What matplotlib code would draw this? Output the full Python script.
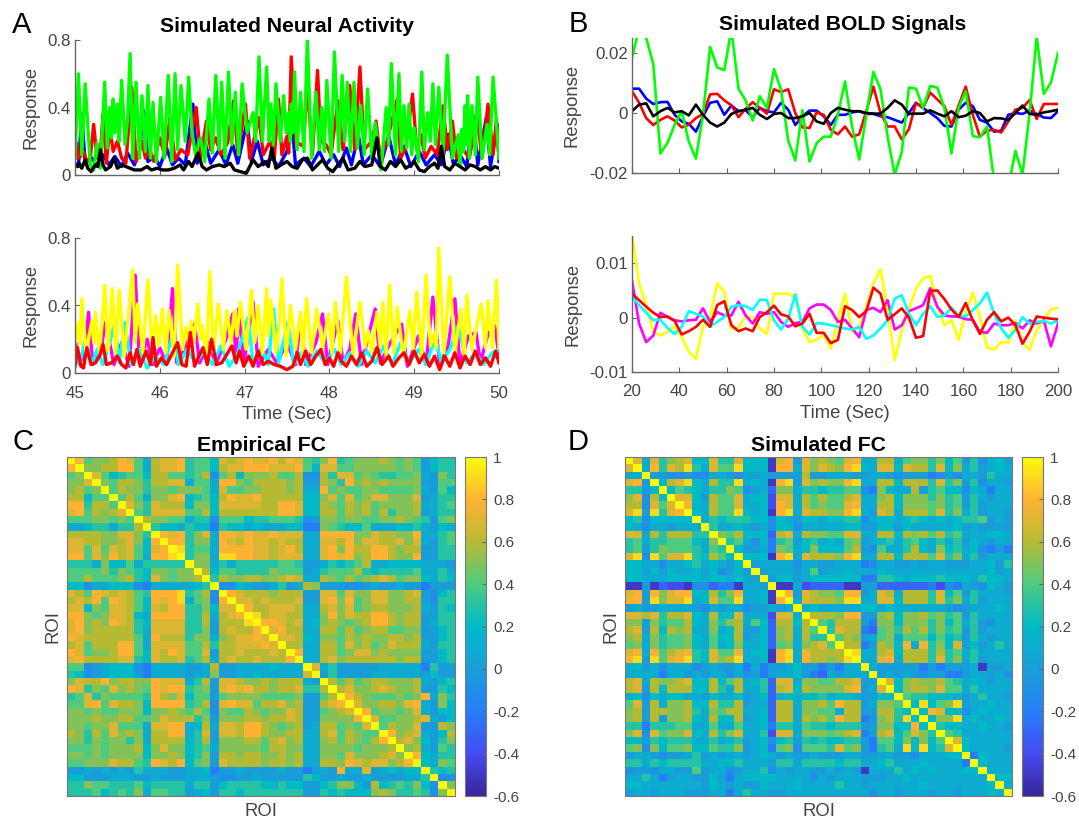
import numpy as np
import matplotlib
matplotlib.use("Agg")
import matplotlib.pyplot as plt
from matplotlib.colors import LinearSegmentedColormap

plt.rcParams['font.family'] = ['Liberation Sans', 'DejaVu Sans']

# ---- panel A, top
green_t = [45.00,45.04,45.08,45.12,45.18,45.22,45.26,45.30,45.35,45.38,45.41,45.43,45.45,45.47,45.50,45.52,45.55,45.59,45.62,45.65,45.68,45.72,45.76,45.79,45.83,45.86,45.89,45.92,45.96,46.01,46.05,46.10,46.14,46.18,46.21,46.25,46.30,46.34,46.38,46.42,46.48,46.53,46.58,46.62,46.66,46.70,46.73,46.77,46.81,46.85,46.89,46.93,46.97,47.03,47.10,47.13,47.17,47.21,47.26,47.29,47.31,47.34,47.37,47.42,47.46,47.49,47.52,47.54,47.55,47.57,47.59,47.62,47.66,47.70,47.74,47.79,47.84,47.88,47.91,47.94,47.97,48.02,48.06,48.11,48.15,48.18,48.21,48.25,48.29,48.33,48.37,48.41,48.45,48.50,48.54,48.61,48.67,48.70,48.73,48.78,48.82,48.85,48.88,48.91,48.94,48.97,49.00,49.05,49.09,49.12,49.16,49.19,49.22,49.25,49.29,49.34,49.39,49.45,49.52,49.54,49.56,49.58,49.60,49.61,49.63,49.65,49.68,49.72,49.75,49.80,49.86,49.89,49.93,50.00]
green_v = [.10,.60,.12,.54,.06,.03,.19,.04,.55,.16,.40,.22,.45,.25,.42,.20,.56,.18,.33,.72,.10,.55,.10,.47,.14,.53,.10,.43,.08,.46,.10,.59,.08,.60,.15,.53,.20,.58,.25,.12,.22,.08,.45,.13,.59,.15,.55,.10,.61,.18,.49,.12,.54,.25,.37,.20,.70,.20,.64,.20,.42,.18,.54,.20,.47,.25,.37,.20,.42,.25,.61,.15,.49,.14,.80,.10,.49,.15,.40,.14,.56,.10,.73,.14,.59,.20,.55,.14,.55,.16,.41,.12,.51,.10,.31,.03,.40,.18,.66,.12,.60,.14,.41,.16,.42,.12,.28,.08,.61,.15,.37,.20,.54,.18,.52,.12,.71,.10,.24,.05,.27,.14,.41,.18,.47,.10,.41,.12,.58,.10,.30,.12,.58,.10]
red_t = [45.00,45.02,45.05,45.10,45.14,45.18,45.22,45.26,45.30,45.33,45.37,45.41,45.45,45.50,45.55,45.60,45.67,45.72,45.79,45.83,45.88,45.93,46.00,46.06,46.12,46.18,46.25,46.33,46.43,46.48,46.55,46.60,46.66,46.72,46.80,46.87,46.92,47.01,47.06,47.17,47.22,47.30,47.35,47.40,47.44,47.50,47.52,47.55,47.60,47.69,47.74,47.80,47.86,47.90,47.96,48.02,48.10,48.16,48.24,48.30,48.36,48.41,48.50,48.55,48.60,48.68,48.80,48.84,48.90,48.98,49.03,49.08,49.13,49.20,49.27,49.34,49.39,49.45,49.50,49.58,49.65,49.74,49.80,49.87,49.93,49.97,50.00]
red_v = [.10,.19,.10,.14,.08,.10,.30,.10,.13,.36,.07,.28,.14,.20,.10,.07,.52,.08,.20,.10,.15,.08,.22,.11,.34,.09,.15,.12,.40,.10,.32,.15,.22,.12,.19,.44,.12,.42,.10,.34,.12,.20,.10,.45,.12,.23,.13,.70,.20,.17,.53,.12,.62,.20,.18,.12,.44,.15,.53,.15,.64,.15,.20,.32,.10,.20,.45,.10,.16,.48,.15,.24,.10,.17,.12,.41,.15,.32,.10,.15,.10,.35,.10,.42,.12,.33,.10]
blue_t = [45.00,45.04,45.08,45.12,45.20,45.27,45.33,45.40,45.47,45.55,45.62,45.70,45.76,45.81,45.86,45.94,46.00,46.08,46.15,46.22,46.30,46.39,46.44,46.53,46.60,46.70,46.78,46.86,46.92,47.03,47.08,47.15,47.22,47.32,47.40,47.50,47.56,47.60,47.70,47.78,47.88,47.96,48.05,48.12,48.20,48.26,48.34,48.40,48.50,48.60,48.70,48.78,48.88,48.96,49.06,49.14,49.24,49.32,49.40,49.46,49.55,49.62,49.69,49.75,49.85,49.90,49.98,50.00]
blue_v = [.07,.05,.36,.07,.10,.05,.12,.06,.11,.05,.13,.06,.14,.38,.08,.11,.05,.16,.06,.10,.06,.42,.07,.20,.07,.15,.06,.18,.07,.32,.08,.20,.06,.10,.05,.14,.30,.06,.10,.05,.14,.06,.12,.05,.16,.06,.24,.06,.12,.05,.23,.06,.17,.05,.14,.06,.12,.06,.24,.07,.11,.05,.36,.06,.34,.05,.30,.08]
black_t = [45.00,45.03,45.05,45.08,45.12,45.15,45.19,45.24,45.27,45.30,45.33,45.36,45.42,45.46,45.50,45.55,45.60,45.65,45.70,45.78,45.85,45.90,45.97,46.03,46.10,46.17,46.24,46.28,46.34,46.38,46.45,46.50,46.55,46.62,46.70,46.76,46.83,46.88,46.95,47.02,47.10,47.16,47.24,47.28,47.32,47.37,47.43,47.50,47.56,47.62,47.68,47.74,47.80,47.86,47.92,47.98,48.04,48.10,48.16,48.22,48.30,48.36,48.42,48.50,48.56,48.60,48.66,48.72,48.78,48.84,48.90,48.96,49.00,49.06,49.12,49.18,49.24,49.28,49.32,49.36,49.42,49.48,49.54,49.60,49.66,49.72,49.78,49.84,49.90,49.95,50.00]
black_v = [.06,.05,.07,.04,.09,.04,.02,.06,.05,.15,.06,.03,.05,.10,.04,.06,.05,.04,.03,.03,.05,.03,.04,.03,.03,.04,.06,.03,.08,.05,.13,.05,.03,.05,.06,.05,.07,.03,.02,.01,.09,.05,.08,.05,.16,.04,.06,.08,.05,.04,.09,.10,.03,.06,.09,.04,.02,.06,.10,.03,.04,.08,.05,.06,.22,.05,.03,.08,.05,.09,.04,.06,.08,.03,.02,.05,.07,.04,.17,.05,.03,.07,.05,.03,.06,.05,.03,.05,.03,.05,.04]

# ---- panel A, bottom
yellow_t = [45.00,45.04,45.06,45.08,45.13,45.20,45.22,45.24,45.29,45.33,45.35,45.39,45.44,45.48,45.52,45.58,45.68,45.71,45.74,45.80,45.86,45.91,45.95,45.99,46.03,46.07,46.11,46.17,46.21,46.27,46.31,46.35,46.37,46.40,46.45,46.48,46.50,46.55,46.59,46.63,46.69,46.75,46.79,46.84,46.88,46.91,46.95,47.02,47.08,47.12,47.16,47.21,47.26,47.28,47.31,47.37,47.41,47.44,47.49,47.54,47.60,47.66,47.69,47.73,47.79,47.85,47.92,47.99,48.03,48.07,48.13,48.20,48.28,48.36,48.42,48.46,48.50,48.56,48.60,48.63,48.67,48.71,48.76,48.80,48.87,48.95,48.99,49.03,49.09,49.14,49.19,49.23,49.26,49.29,49.35,49.42,49.48,49.55,49.59,49.62,49.68,49.79,49.84,49.87,49.92,49.97,50.00]
yellow_v = [.18,.30,.17,.44,.12,.31,.18,.36,.12,.37,.52,.13,.50,.12,.49,.10,.61,.18,.41,.12,.55,.12,.34,.16,.38,.12,.37,.10,.64,.14,.27,.16,.31,.18,.41,.20,.28,.10,.60,.12,.41,.14,.37,.18,.37,.22,.42,.14,.49,.18,.40,.12,.50,.22,.43,.12,.30,.56,.10,.40,.14,.36,.10,.44,.12,.38,.15,.35,.12,.42,.12,.57,.10,.42,.15,.25,.12,.36,.15,.42,.10,.52,.12,.39,.10,.37,.14,.48,.10,.58,.16,.23,.15,.74,.12,.57,.12,.38,.10,.46,.14,.41,.15,.43,.15,.55,.15]
magenta_t = [45.00,45.04,45.10,45.16,45.21,45.30,45.36,45.46,45.55,45.64,45.71,45.76,45.85,45.92,46.00,46.08,46.15,46.20,46.30,46.41,46.47,46.58,46.66,46.78,46.86,46.90,46.93,46.99,47.10,47.16,47.28,47.38,47.50,47.60,47.66,47.72,47.84,47.92,47.98,48.10,48.16,48.24,48.31,48.38,48.46,48.54,48.60,48.72,48.85,48.92,49.05,49.14,49.22,49.30,49.40,49.48,49.54,49.64,49.73,49.78,49.87,49.95,50.00]
magenta_v = [.20,.10,.08,.36,.05,.12,.30,.05,.18,.04,.58,.06,.20,.05,.15,.05,.50,.06,.15,.29,.06,.18,.05,.20,.35,.10,.38,.05,.42,.04,.14,.06,.18,.05,.32,.05,.18,.35,.05,.31,.06,.14,.35,.05,.22,.38,.06,.18,.29,.04,.22,.05,.45,.05,.16,.44,.05,.22,.24,.06,.23,.28,.10]
cyan_t = [45.00,45.05,45.12,45.20,45.26,45.33,45.40,45.47,45.52,45.59,45.66,45.76,45.85,45.95,46.05,46.16,46.22,46.32,46.42,46.52,46.62,46.72,46.82,46.92,47.04,47.10,47.20,47.28,47.34,47.40,47.51,47.58,47.66,47.75,47.85,47.95,48.06,48.14,48.24,48.34,48.44,48.54,48.64,48.74,48.84,48.94,49.05,49.14,49.25,49.32,49.42,49.52,49.62,49.72,49.82,49.92,50.00]
cyan_v = [.10,.05,.19,.05,.14,.05,.16,.30,.06,.30,.05,.14,.03,.10,.05,.24,.05,.14,.06,.13,.05,.16,.04,.12,.33,.06,.15,.05,.38,.06,.30,.05,.12,.04,.13,.06,.14,.05,.12,.04,.13,.06,.16,.05,.18,.06,.14,.05,.21,.06,.14,.28,.06,.12,.05,.12,.14]
redb_t = [45.00,45.03,45.07,45.10,45.14,45.19,45.24,45.29,45.33,45.37,45.43,45.50,45.55,45.60,45.65,45.69,45.73,45.77,45.84,45.89,45.92,45.96,46.02,46.08,46.14,46.21,46.26,46.31,46.36,46.41,46.46,46.51,46.56,46.61,46.67,46.73,46.79,46.85,46.90,46.94,46.99,47.05,47.10,47.16,47.22,47.28,47.35,47.42,47.50,47.57,47.62,47.66,47.72,47.78,47.84,47.90,47.95,48.00,48.05,48.10,48.14,48.20,48.26,48.32,48.38,48.44,48.50,48.56,48.62,48.70,48.75,48.82,48.88,48.94,49.00,49.06,49.12,49.18,49.24,49.30,49.36,49.42,49.48,49.54,49.60,49.66,49.72,49.78,49.84,49.90,49.96,50.00]
redb_v = [.04,.15,.04,.03,.15,.05,.06,.10,.17,.05,.06,.10,.05,.03,.12,.05,.14,.04,.13,.05,.21,.04,.09,.05,.11,.18,.05,.04,.24,.04,.10,.15,.05,.20,.05,.06,.11,.16,.06,.13,.04,.10,.04,.13,.05,.07,.05,.04,.02,.04,.12,.05,.13,.05,.10,.14,.05,.09,.04,.12,.07,.04,.10,.05,.12,.04,.07,.15,.05,.10,.04,.09,.12,.05,.13,.06,.11,.04,.10,.02,.10,.04,.12,.03,.10,.05,.13,.05,.09,.04,.13,.06]

# ---- panel B, top
bold_green = [.0186,.028,.025,.0163,-.0135,-.0099,-.004,.0006,-.0096,-.0152,-.0006,.022,.0152,.0143,.028,.0081,.0042,-.0025,.0056,.0017,.0146,.0077,-.0092,-.0158,.001,-.0162,-.0101,-.0079,-.0079,-.0006,.0105,-.0045,-.0155,-.0006,.0137,.0079,-.0079,-.0205,-.013,.0085,.0081,.0017,.009,.0085,.0017,-.0135,.0017,.0073,-.0077,-.0081,-.0045,-.0225,-.027,-.0248,-.0126,-.0205,0,.0254,.0064,.0101,.02]
bold_red = [.0073,.0034,-.0017,-.004,-.0023,-.0011,-.0025,-.0048,-.0039,-.0017,-.0003,.0062,.0064,.0042,.0026,-.0014,.0014,.0036,.0017,-.0002,.0079,.007,.0079,0,-.0048,-.005,.0002,-.0006,-.0056,-.0071,-.0045,-.0079,-.0071,.0006,.0088,0,-.0045,-.0045,-.0088,-.0054,.0034,.0017,.0068,.0045,.0023,-.004,.0025,.0088,-.0006,-.0079,-.0059,-.0056,-.0065,-.0028,.0011,.0017,.0043,-.002,.003,.003,.003]
bold_blue = [.0081,.0081,.0048,.003,.0036,.0037,-.0006,-.0028,-.0036,-.0062,-.0011,.0034,.0039,-.0006,.0025,.0006,.0009,-.0014,.0017,.0006,.0002,.0034,.0011,-.004,-.0011,.0008,.0008,-.0011,-.004,-.0006,-.0006,.0002,.0006,-.0003,-.0003,-.0011,-.0014,-.0023,-.0032,0,.0034,.0017,0,-.0017,-.0043,-.0045,.0011,.0034,.0023,-.0023,-.0032,-.0062,-.0059,-.0006,0,-.0003,.0008,-.0003,-.0015,-.0017,.0006]
bold_black = [.0006,.0028,.0032,-.0011,.0006,.0017,.0002,.0006,-.0008,.0028,-.0006,-.0032,-.0045,-.0032,-.0003,.0006,.0011,.0017,-.0006,-.002,-.0003,0,-.0017,-.0017,-.0011,0,-.0028,-.0036,0,.0017,.0011,.0006,.0006,0,-.0002,-.0002,.0017,.0042,.0028,-.0003,-.0002,-.0002,.0009,-.0002,-.0011,.0006,-.0014,-.0009,.0006,0,-.0028,-.0017,-.0018,-.0023,0,.0025,-.0003,-.0006,.0002,.0006,.0011]

# ---- panel B, bottom
bold_yellow = [.0152,.0063,.0023,-.0026,-.0033,-.0026,-.0017,-.0036,-.0063,-.0076,-.0017,.0001,.0063,.0047,-.002,-.0018,.0002,0,-.002,-.003,.0044,.0044,.0044,.0037,-.002,-.0045,-.0041,-.0031,-.0057,-.0005,.0044,-.0026,-.0018,.002,.0063,.0089,.0014,-.0078,-.0023,.0014,.0054,.0072,.0077,.002,-.0014,-.0005,-.0041,.001,.0046,.0001,-.0055,-.0059,-.0045,-.0046,-.0005,-.0045,-.0059,-.0023,-.0005,.0015,.0018]
bold_magenta = [.0068,-.0011,-.0045,-.0033,.0009,.0001,-.0005,-.0007,-.0005,-.0004,.0017,-.0008,.001,.0004,.0004,.0029,.0004,-.0011,.001,.0007,.001,-.0008,-.0017,-.001,-.0008,.0017,.0024,.0024,.0014,-.0008,-.0004,-.002,-.0036,.0014,.0018,.001,.0032,-.0022,-.0014,.0012,.0017,.0023,.0054,.002,.0004,.0002,.0002,-.0003,-.0004,-.0026,-.0028,-.0011,-.0014,-.0014,-.001,-.002,-.0005,-.0011,-.0005,-.0053,-.0011]
bold_cyan = [.0038,.0023,.0009,-.0005,-.0004,-.0019,-.003,-.0017,.0012,.0007,.0002,-.0016,-.0008,.0001,.002,.0023,.0021,.0014,.0033,.0032,-.0005,-.0022,-.0002,.0043,-.0017,-.0031,-.001,-.0011,-.0014,-.0017,-.002,-.0022,-.0017,-.0039,-.0033,-.002,-.0005,.0035,.0041,.0007,-.0014,.0007,.0021,.0001,.0004,.0018,.0004,.0002,.0014,.0026,.0046,.0007,-.002,-.0037,-.0023,.0001,-.0011,-.0008,-.0006,-.0011,-.0005]
bold_red2 = [.0044,.0032,.002,.0009,.0001,.0002,-.0006,-.0031,-.0025,-.0017,-.0004,-.0017,.0023,.003,-.0014,-.0025,-.002,-.0025,.0001,.001,.0022,.0006,.0002,-.0016,-.0011,.0007,-.0028,-.0028,-.0047,-.0041,.0021,.0014,.0001,.0012,.0055,.0044,-.0004,.0006,.0017,0,-.0037,-.0034,.0049,.005,.0034,.0015,.0001,.0027,-.0005,-.003,-.0004,.001,-.0007,0,-.0014,-.0048,-.0026,.0002,0,-.0002,-.0003]

# ---- FC matrices, upper triangle from the diagonal, one digit = tenths
# X = 1.0, a..f = -0.1..-0.6
empirical_fc = [
"X845568741 67783442 7678778687 435834555654540233",
"X55668841 67783442 6778887778 427744555554540233",
"X7423442 6644346a 4625556446 aa6377454334451053",
"X546653 66771441 8854666656 006538565655550044",
"X46553 55455541 7445566656 118454455444451042",
"X4641 55782342 6877866666 225747457755570133",
"X753 76662552 7777766887 226546564555561134",
"X43 77774462 6666666887 226646564635560133",
"X6 55441 33a 4442334443 a05545544556543045",
"X 32213 22b 3221211122 bb5432241112231021",
"X8783571 8878778777 118888557665581134",
"X883551 8768776766 117768577667571034",
"X93441 8888776786 117858668865660033",
"X3551 9988776777 117878568865580033",
"X551 3133333443 001323461122221110",
"X62 4433335444 013444632333341131",
"X3 6556655676 116546456764552132",
"X aa21001301 6500 0aa0100100 b000",
"X876665666 00774755775567 0a23",
"X77676667 00785845775566 0a33",
"X8667776 11675745665556 1032",
"X967766 11585766886566 0033",
"X88767 125654568865660133",
"X7866 11664645664455 0023",
"X776 215546565566 56 0023",
"X66 116647564576 66 1033",
"X8 116645775655 55 0023",
"X 116756666665 66 0023",
"X7 130000011111 b300",
"X 030000111111 0200",
"X6464566555 6 1023",
"X67556765 56 0 032",
"X8654445458 153",
"X755665781052",
"X84554571022",
"X7445567102",
"X465570065",
"X85671026",
"X6752035",
"X561043",
"X82133",
"X2154",
"X323",
"Xaa",
"X5",
"X",
]
simulated_fc = [
"X7173567 22 73372 2 2e 7807565478 1166145535 2403a120",
"X18376931 74492 2 2e 8817576589 217727663725130121",
"X00aa0aa 1 10a 1 0 1 0 0006 0 0 1 1 1 0 0 1 1 0a000ba0a1 1 0 3 1 1",
"X267921 6339 1 2 1e 8907565589 116626663735 0 3 a 1 1 0",
"X24321 3354a 0 1c 5513323344 ab52116034 2 2 a 2 1 b 1 1",
"X7720 64471 2 2d 7716464467 115625553534 0 3 1 0 1 1",
"X821 64471 1 2d 8716454478 116625554534 0 3 0 1 1 1",
"X21 64492 1 2e 8917665589 107616664735 1 3 0 1 1 0",
"X1 32333 2 2a 2102212233 a122123212 1 2 3 3 4 0 1 0",
"X 31121 0 1a 22a1111122 002202111112 0 1 0 0 0 0",
"X5462 2 2c 6716554477 116626564634 1 1 1 2 2 1",
"X341a2b 3402312145 012313421313 0 2 1 0 1 1",
"X2001b 5412522246 0a4113621523 1 2 a b 0 b",
"X222e 8917666589 116626664735 1 3 0 1 1 1",
"X011 11a110 0111 ba1100101100 0 1 1 2 0 3",
"X01 1101401121 102111111111 1 1 1 2 0 1",
"X0 2201222222 bb3321222322 2 1 3 2 2 1",
"X ee1dcccc ee 00ccccccbdab 1 0 a 2 1 0",
"X807 6 5 5 4 8 8 017616663724 0 3 1 1 1 0",
"X17666 5 9 9 117726663735 1 3 0 1 1 1",
"X1211111 2212111111 0a 0 1 1 1 2 1",
"X666588 005625564534 0 3 1 1 1 1",
"X436 6 6 0b5525553524 1 3 0 a 1 1",
"X3766 bc4536463534 0 3 0 1 1 1",
"X465 014514442423 0 3 1 0 1 1",
"X66 b06528183527 0 2 0 1 3 1",
"X9 116726663634 1 3 1 1 1 1",
"X 117816663735 1 3 0 1 1 1",
"X1 00000b0b0001 e001",
"X 01010a00bb01 1 0 1 a",
"X725655 64 3 1 2 1 0 1 1",
"X2566 5 7 4 4 1 3 1 1 1 1",
"X43 3 2 2 2 1 0 1 3 1 1 0",
"X2924590 1 1 2 1 1",
"X2872 2 a 1 2 1 1 1",
"X25591 2 1 1 2 1",
"X322 1 1 2 1 1 0",
"X43 1 1 1 1 1 1",
"X7 2 1 1 1 1 1",
"X2 1 1 1 1 0",
"Xb 2 1 1 1",
"X2 1 1 1",
"X1 1 1",
"X2 2",
"X1",
"X",
]

x_a = [45, 46, 47, 48, 49, 50]
x_b = [20, 40, 60, 80, 100, 120, 140, 160, 180, 200]
cbar_ticks = [-0.6, -0.4, -0.2, 0, 0.2, 0.4, 0.6, 0.8, 1]
cbar_labels = ['-0.6', '-0.4', '-0.2', '0', '0.2', '0.4', '0.6', '0.8', '1']


def decode(rows):
    vals = {'X': 1.0, 'a': -.1, 'b': -.2, 'c': -.3, 'd': -.4, 'e': -.5, 'f': -.6}
    m = np.full((46, 46), 0.3)
    for i, s in enumerate(rows):
        s = s.replace(' ', '')
        for k, c in enumerate(s[:46 - i]):
            v = vals[c] if c in vals else int(c) / 10
            m[i, i + k] = v
            m[i + k, i] = v
    return m


W, H = 1079, 821
fig = plt.figure(figsize=(W / 100, H / 100), dpi=100)
tick_c = '#444444'
GREEN = (0, 1, 0)
YELLOW = (1, 1, 0)
MAGENTA = (1, 0, 1)
CYAN = (0, 1, 1)


def px_axes(x0, y0, x1, y1):
    # pixel box, y measured from the top
    return fig.add_axes([x0 / W, 1 - y1 / H, (x1 - x0) / W, (y1 - y0) / H])


def style(ax, xt, yt, ylab, xlim, ylim, show_x):
    ax.set_xlim(*xlim)
    ax.set_ylim(*ylim)
    ax.set_xticks(xt)
    ax.set_yticks(yt)
    ax.set_yticklabels(ylab)
    if not show_x:
        ax.set_xticklabels([])
    ax.spines['top'].set_visible(False)
    ax.spines['right'].set_visible(False)
    for s in ['left', 'bottom']:
        ax.spines[s].set_color('#666666')
        ax.spines[s].set_linewidth(1.0)
    ax.tick_params(direction='in', length=3.5, width=0.8, color='#666666',
                   labelcolor=tick_c, labelsize=12.2, pad=3)
    ax.tick_params(axis='x', pad=9)
    ax.set_ylabel('Response', fontsize=13.3, color=tick_c, labelpad=6)


lw = 1.9
lw_a = 2.4
ax1 = px_axes(75, 40, 499, 175)
ax1.plot(blue_t, blue_v, color='b', lw=lw_a)
ax1.plot(red_t, red_v, color='r', lw=lw_a)
ax1.plot(green_t, green_v, color=GREEN, lw=lw_a)
ax1.plot(black_t, black_v, color='k', lw=lw_a)
style(ax1, x_a, [0, .4, .8], ['0', '0.4', '0.8'], (45, 50), (0, .8), False)

ax2 = px_axes(75, 238, 499, 373)
ax2.plot(magenta_t, magenta_v, color=MAGENTA, lw=lw_a)
ax2.plot(cyan_t, cyan_v, color=CYAN, lw=lw_a)
ax2.plot(yellow_t, yellow_v, color=YELLOW, lw=lw_a)
ax2.plot(redb_t, redb_v, color='r', lw=lw_a)
style(ax2, x_a, [0, .4, .8], ['0', '0.4', '0.8'], (45, 50), (0, .8), True)
ax2.set_xlabel('Time (Sec)', fontsize=13.3, color=tick_c, labelpad=4)

ax3 = px_axes(632, 38, 1058, 173)
for y, c in [(bold_blue, 'b'), (bold_red, 'r'), (bold_green, GREEN), (bold_black, 'k')]:
    ax3.plot(np.linspace(20, 200, len(y)), y, color=c, lw=lw)
style(ax3, x_b, [-.02, 0, .02], ['-0.02', '0', '0.02'], (20, 200), (-.02, .025), False)

ax4 = px_axes(632, 236, 1058, 372)
for y, c in [(bold_yellow, YELLOW), (bold_magenta, MAGENTA), (bold_cyan, CYAN), (bold_red2, 'r')]:
    ax4.plot(np.linspace(20, 200, len(y)), y, color=c, lw=lw)
style(ax4, x_b, [-.01, 0, .01], ['-0.01', '0', '0.01'], (20, 200), (-.01, .015), True)
ax4.set_xlabel('Time (Sec)', fontsize=13.3, color=tick_c, labelpad=4)

# colours
fc_cmap = LinearSegmentedColormap.from_list('fc', [
    (0.0, (0.22, 0.15, 0.60)), (0.125, (0.27, 0.30, 0.95)),
    (0.25, (0.15, 0.50, 0.97)), (0.375, (0.10, 0.62, 0.85)),
    (0.5, (0.00, 0.73, 0.78)), (0.625, (0.30, 0.80, 0.50)),
    (0.75, (0.72, 0.73, 0.20)), (0.875, (1.00, 0.70, 0.20)),
    (1.0, (0.98, 0.98, 0.05))])


def heat(rows, box, cbox, title):
    ax = px_axes(*box)
    im = ax.imshow(decode(rows), cmap=fc_cmap, vmin=-.6, vmax=1, aspect='auto',
                   interpolation='nearest')
    ax.set_xticks([])
    ax.set_yticks([])
    for s in ax.spines.values():
        s.set_color('#777777')
    ax.set_title(title, fontsize=15.2, fontweight='bold', pad=4)
    ax.set_xlabel('ROI', fontsize=13.3, color=tick_c, labelpad=5)
    ax.set_ylabel('ROI', fontsize=13.3, color=tick_c, labelpad=4)
    cax = px_axes(*cbox)
    cb = fig.colorbar(im, cax=cax)
    cb.set_ticks(cbar_ticks)
    cb.set_ticklabels(cbar_labels)
    cb.outline.set_edgecolor('#777777')
    cax.tick_params(direction='in', length=3, width=0.8, color='#666666',
                    labelcolor=tick_c, labelsize=11, pad=5)


heat(empirical_fc, (67, 457, 455, 796), (465, 457, 486, 796), 'Empirical FC')
heat(simulated_fc, (625, 457, 1012, 796), (1022, 457, 1043, 796), 'Simulated FC')

fig.text(287 / W, 1 - 26 / H, 'Simulated Neural Activity', fontsize=15.2, fontweight='bold',
         ha='center', va='center')
fig.text(843 / W, 1 - 25 / H, 'Simulated BOLD Signals', fontsize=15.2, fontweight='bold',
         ha='center', va='center')

for letter, x, y in [('A', 12, 25), ('B', 569, 24), ('C', 12, 442), ('D', 568, 442)]:
    fig.text(x / W, 1 - y / H, letter, fontsize=21, ha='left', va='center')

plt.savefig('out.png', dpi=100)
